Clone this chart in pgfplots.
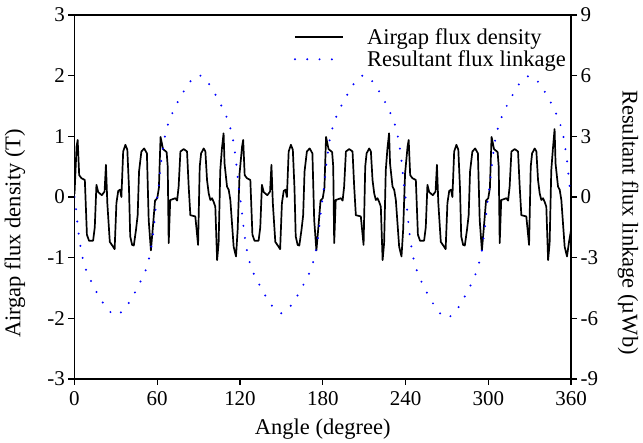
\documentclass[border=0pt]{standalone}
\usepackage{pgfplots}
\pgfplotsset{compat=1.18}
\usepackage{fontspec}
\setmainfont{Liberation Serif}
\begin{document}
\begin{tikzpicture}
\pgfplotsset{
  every axis/.append style={font=\fontsize{21}{25}\selectfont},
  every axis label/.append style={font=\fontsize{22.5}{26}\selectfont},
  myaxis/.style={scale only axis, width=496.5pt, height=364pt,
    xmin=0, xmax=360, tick align=outside, major tick length=6pt,
    axis line style={line width=1.2pt, black}, every tick/.style={line width=1.2pt, black}},
}
\begin{axis}[myaxis, ymin=-3, ymax=3,
  xtick={0,60,120,180,240,300,360}, xticklabels={0,60,120,180,240,300,360},
  ytick={-3,-2,-1,0,1,2,3}, yticklabels={-3,-2,-1,0,1,2,3},
  xtick pos=bottom, ytick pos=left,
  xticklabel style={yshift=-3pt},
  xlabel={Angle (degree)}, ylabel={Airgap flux density (T)},
  xlabel style={at={(axis description cs:0.5,-0.137)}, anchor=center},
  ylabel style={at={(axis description cs:-0.12,0.40)}, anchor=center},
]
\coordinate (bl) at (rel axis cs:0,0);
\coordinate (tr) at (rel axis cs:1,1);
\addplot[black, line width=1.7pt, line join=round] table {
0 0.05
1.5 0.83
2.3 0.94
3.4 0.36
5.0 0.31
7.5 0.28
9.0 -0.62
10.5 -0.72
13.5 -0.72
14.7 -0.5
15.9 0.2
17.2 0.08
19.8 0.03
21.8 0.09
22.8 0.53
23.8 -0.1
25.6 -0.74
28.0 -0.82
29.1 -0.86
30.4 -0.1
31.7 0.1
33.0 0.12
34.0 0.0
35.3 0.75
36.9 0.86
38.3 0.78
39.5 0.15
40.4 -0.65
41.8 -0.79
43.0 -0.8
44.6 -0.54
45.8 -0.3
46.8 0.42
48.5 0.75
50.5 0.8
52.5 0.72
53.8 -0.38
55.4 -0.88
57.0 -0.45
58.4 -0.06
60.0 -0.02
61.2 0.15
62.4 0.99
64.2 0.79
66.8 0.74
67.6 0.5
68.3 -0.76
69.4 -0.05
73.2 -0.02
74.4 -0.06
75.5 0.17
76.8 0.75
79.2 0.79
81.6 0.75
82.8 0.17
84.0 -0.3
87.6 -0.32
89.6 -0.79
90.8 0.5
91.8 0.72
93.7 0.8
94.9 0.75
96.1 0.28
97.3 0.06
98.5 -0.05
99.7 -0.02
100.9 -0.08
102.1 -0.16
103.4 -1.04
104.5 -0.76
105.7 0.44
106.9 0.8
108.1 1.05
108.8 0.55
110.6 0.17
111.8 0.12
113.0 -0.05
115.4 -0.82
117.1 -0.98
118.3 -0.54
119.7 0.39
121.5 0.83
122.3 0.94
123.4 0.36
125.0 0.31
127.5 0.28
129.0 -0.62
130.5 -0.72
133.5 -0.72
134.7 -0.5
135.9 0.2
137.2 0.08
139.8 0.03
141.8 0.09
142.8 0.53
143.8 -0.1
145.6 -0.74
148.0 -0.82
149.1 -0.86
150.4 -0.1
151.7 0.1
153.0 0.12
154.0 0.0
155.3 0.75
156.9 0.86
158.3 0.78
159.5 0.15
160.4 -0.65
161.8 -0.79
163.0 -0.8
164.6 -0.54
165.8 -0.3
166.8 0.42
168.5 0.75
170.5 0.8
172.5 0.72
173.8 -0.38
175.4 -0.88
177.0 -0.45
178.4 -0.06
180.0 -0.02
181.2 0.15
182.4 0.99
184.2 0.79
186.8 0.74
187.6 0.5
188.3 -0.76
189.4 -0.05
193.2 -0.02
194.4 -0.06
195.5 0.17
196.8 0.75
199.2 0.79
201.6 0.75
202.8 0.17
204.0 -0.3
207.6 -0.32
209.6 -0.79
210.8 0.5
211.8 0.72
213.7 0.8
214.9 0.75
216.1 0.28
217.3 0.06
218.5 -0.05
219.7 -0.02
220.9 -0.08
222.1 -0.16
223.4 -1.04
224.5 -0.76
225.7 0.44
226.9 0.8
228.1 1.05
228.8 0.55
230.6 0.17
231.8 0.12
233.0 -0.05
235.4 -0.82
237.1 -0.98
238.3 -0.54
239.7 0.39
241.5 0.83
242.3 0.94
243.4 0.36
245.0 0.31
247.5 0.28
249.0 -0.62
250.5 -0.72
253.5 -0.72
254.7 -0.5
255.9 0.2
257.2 0.08
259.8 0.03
261.8 0.09
262.8 0.53
263.8 -0.1
265.6 -0.74
268.0 -0.82
269.1 -0.86
270.4 -0.1
271.7 0.1
273.0 0.12
274.0 0.0
275.3 0.75
276.9 0.86
278.3 0.78
279.5 0.15
280.4 -0.65
281.8 -0.79
283.0 -0.8
284.6 -0.54
285.8 -0.3
286.8 0.42
288.5 0.75
290.5 0.8
292.5 0.72
293.8 -0.38
295.4 -0.88
297.0 -0.45
298.4 -0.06
300.0 -0.02
301.2 0.15
302.4 0.99
304.2 0.79
306.8 0.74
307.6 0.5
308.3 -0.76
309.4 -0.05
313.2 -0.02
314.4 -0.06
315.5 0.17
316.8 0.75
319.2 0.79
321.6 0.75
322.8 0.17
324.0 -0.3
327.6 -0.32
329.6 -0.79
330.8 0.5
331.8 0.72
333.7 0.8
334.9 0.75
336.1 0.28
337.3 0.06
338.5 -0.05
339.7 -0.02
340.9 -0.08
342.1 -0.16
343.4 -1.04
344.5 -0.76
345.7 0.44
346.9 0.8
348.1 1.12
348.8 0.55
350.6 0.17
351.8 0.12
353.0 -0.05
355.4 -0.82
357.1 -0.98
358.5 -0.75
360.0 -0.55
};
\end{axis}
\begin{axis}[myaxis, ymin=-9, ymax=9,
  axis x line=none, axis y line*=right,
  ytick={-9,-6,-3,0,3,6,9}, yticklabels={-9,-6,-3,0,3,6,9},
  ylabel={Resultant flux linkage (µWb)},
  ylabel style={at={(axis description cs:1.115,0.43)}, anchor=center, rotate=180},
  legend style={at={(axis description cs:1.0,0.975)}, anchor=north east, draw=none, fill=none,
    font=\fontsize{22.5}{26}\selectfont, row sep=1pt,
    /tikz/every odd column/.append style={column sep=21pt}},
  legend cell align=left,
  legend image code/.code={\draw[#1] (0pt,0pt) -- (48pt,0pt);},
]
\addlegendimage{black, line width=1.7pt}
\addlegendentry{Airgap flux density}
\addplot[blue, line width=2.2pt, line cap=round, dash pattern=on 0pt off 12.3pt] table {
0 0
1 -0.5
2 -1.2
3 -1.8
4 -2.3
5 -2.7
6 -3.05
8 -3.55
10 -3.9
13 -4.3
16 -4.7
19 -5.05
22 -5.4
25 -5.63
28 -5.8
30 -5.85
32 -5.8
35 -5.63
38 -5.4
41 -5.05
44 -4.7
47 -4.3
50 -3.9
52 -3.55
54 -3.05
55 -2.7
56 -2.3
57 -1.8
58 -1.2
59 -0.5
60 0
61 0.5
62 1.2
63 1.85
64 2.35
65 2.8
66 3.15
68 3.65
70 4.0
73 4.45
76 4.85
79 5.2
82 5.55
85 5.8
88 5.98
90 6.03
92 5.98
95 5.8
98 5.55
101 5.2
104 4.85
107 4.45
110 4.0
112 3.65
114 3.15
115 2.8
116 2.35
117 1.85
118 1.2
119 0.5
120 0
121 -0.5
122 -1.15
123 -1.75
124 -2.25
125 -2.65
126 -3.0
128 -3.45
130 -3.8
133 -4.2
136 -4.6
139 -4.95
142 -5.3
145 -5.5
148 -5.7
150 -5.75
152 -5.7
155 -5.5
158 -5.3
161 -4.95
164 -4.6
167 -4.2
170 -3.8
172 -3.45
174 -3.0
175 -2.65
176 -2.25
177 -1.75
178 -1.15
179 -0.5
180 0
181 0.5
182 1.2
183 1.85
184 2.35
185 2.8
186 3.15
188 3.65
190 4.0
193 4.45
196 4.85
199 5.2
202 5.55
205 5.8
208 5.98
210 6.03
212 5.98
215 5.8
218 5.55
221 5.2
224 4.85
227 4.45
230 4.0
232 3.65
234 3.15
235 2.8
236 2.35
237 1.85
238 1.2
239 0.5
240 0
241 -0.5
242 -1.2
243 -1.85
244 -2.35
245 -2.8
246 -3.1
248 -3.6
250 -3.95
253 -4.4
256 -4.8
259 -5.15
262 -5.5
265 -5.75
268 -5.93
270 -5.98
272 -5.93
275 -5.75
278 -5.5
281 -5.15
284 -4.8
287 -4.4
290 -3.95
292 -3.6
294 -3.1
295 -2.8
296 -2.35
297 -1.85
298 -1.2
299 -0.5
300 0
301 0.5
302 1.2
303 1.85
304 2.35
305 2.8
306 3.15
308 3.65
310 4.0
313 4.45
316 4.85
319 5.2
322 5.55
325 5.78
328 5.95
330 6.0
332 5.95
335 5.78
338 5.55
341 5.2
344 4.85
347 4.45
350 4.0
352 3.65
354 3.15
355 2.8
356 2.35
357 1.85
358 1.2
359 0.5
360 0
};
\addlegendentry{Resultant flux linkage}
\end{axis}
\pgfresetboundingbox
\path[use as bounding box] ([shift={(-74.5pt,-64pt)}]bl) rectangle ([shift={(72pt,15pt)}]tr);
\end{tikzpicture}
\end{document}
